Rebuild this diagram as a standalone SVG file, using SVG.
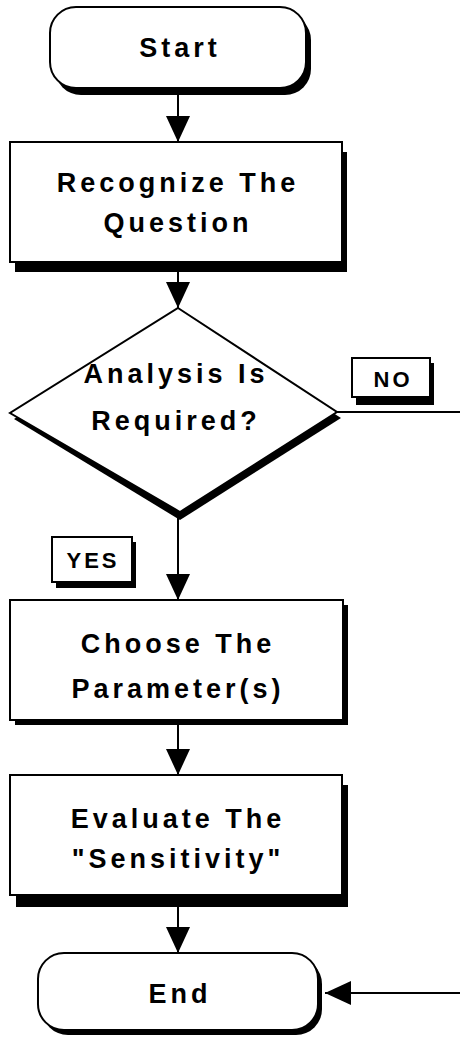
<svg xmlns="http://www.w3.org/2000/svg" width="460" height="1038" viewBox="0 0 460 1038">
<style>
.box{fill:#fff;stroke:#000;stroke-width:2}
.sh{fill:#000}
.t{font-family:"Liberation Sans","DejaVu Sans",sans-serif;font-weight:bold;font-size:27px;letter-spacing:4px;text-anchor:middle;fill:#000}
.lt{font-family:"Liberation Sans","DejaVu Sans",sans-serif;font-weight:bold;font-size:22px;letter-spacing:3px;text-anchor:middle;fill:#000}
.c{fill:none;stroke:#000;stroke-width:2}
</style>
<defs>
<marker id="ah" markerUnits="userSpaceOnUse" markerWidth="26" markerHeight="26" viewBox="0 0 26 26" refX="26" refY="13" orient="auto">
<path d="M0,1 L26,13 L0,25 Z" fill="#000"/>
</marker>
</defs>
<rect width="460" height="1038" fill="#fff"/>
<g id="connectors">
<line class="c" x1="178" y1="95" x2="178" y2="142" marker-end="url(#ah)"/>
<line class="c" x1="178" y1="272" x2="178" y2="308" marker-end="url(#ah)"/>
<line class="c" x1="178" y1="514" x2="178" y2="600" marker-end="url(#ah)"/>
<line class="c" x1="178" y1="725" x2="178" y2="775" marker-end="url(#ah)"/>
<line class="c" x1="178" y1="906" x2="178" y2="953" marker-end="url(#ah)"/>
<path class="c" d="M337,412 H475 V993 H325" marker-end="url(#ah)"/>
</g>
<g id="start">
<rect class="sh" x="55" y="14" width="256" height="81" rx="26"/>
<rect class="box" x="50" y="7" width="256" height="81" rx="26"/>
<text class="t" x="180" y="57">Start</text>
</g>
<g id="recognize">
<rect class="sh" x="15" y="152" width="332" height="120"/>
<rect class="box" x="10" y="142" width="332" height="120"/>
<text class="t" x="178" y="192">Recognize The</text>
<text class="t" x="178" y="232">Question</text>
</g>
<g id="decision">
<polygon class="sh" points="178,314 341,418 180,520 14,419"/>
<polygon class="box" points="178,308 337,412 180,512 10,413"/>
<text class="t" x="176" y="383">Analysis Is</text>
<text class="t" x="176" y="430">Required?</text>
</g>
<g id="no-label">
<rect class="sh" x="356" y="363" width="78" height="42"/>
<rect class="box" x="352" y="358" width="78" height="39"/>
<text class="lt" x="393" y="387">NO</text>
</g>
<g id="yes-label">
<rect class="sh" x="56" y="542" width="80" height="46"/>
<rect class="box" x="52" y="537" width="80" height="45"/>
<text class="lt" x="93" y="568">YES</text>
</g>
<g id="choose">
<rect class="sh" x="15" y="605" width="333" height="120"/>
<rect class="box" x="10" y="600" width="333" height="120"/>
<text class="t" x="178" y="653">Choose The</text>
<text class="t" x="178" y="698">Parameter(s)</text>
</g>
<g id="evaluate">
<rect class="sh" x="16" y="785" width="332" height="122"/>
<rect class="box" x="10" y="775" width="332" height="120"/>
<text class="t" x="178" y="828">Evaluate The</text>
<text class="t" x="178" y="868">"Sensitivity"</text>
</g>
<g id="end">
<rect class="sh" x="42" y="958" width="280" height="77" rx="26"/>
<rect class="box" x="38" y="953" width="280" height="77" rx="26"/>
<text class="t" x="180" y="1003">End</text>
</g>
</svg>
